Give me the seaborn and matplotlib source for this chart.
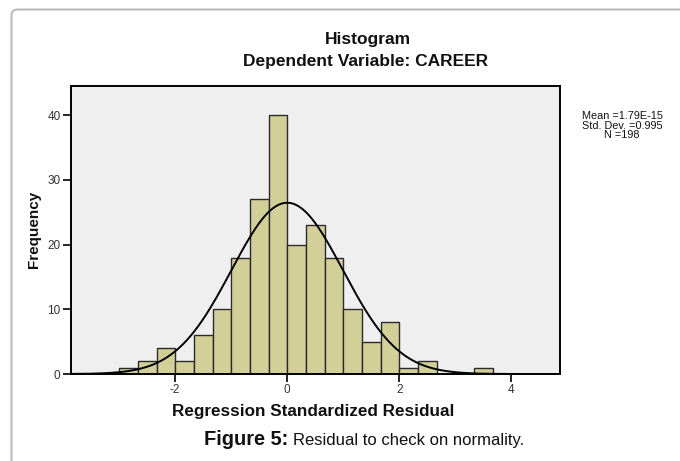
"""Residual histogram with fitted normal curve (SPSS style)."""

import matplotlib

matplotlib.use("Agg")
import matplotlib.pyplot as plt
import numpy as np
import pandas as pd
import seaborn as sns
from matplotlib.patches import FancyBboxPatch
from matplotlib.transforms import IdentityTransform

# bin edges (width 1/3) and counts
bin_edges = [round(-3.0 + i / 3.0, 6) for i in range(21)]
counts = [1, 2, 4, 2, 6, 10, 18, 27, 40, 20, 23, 18, 10, 5, 8, 1, 2, 0, 0, 1]

mean_val = 1.79e-15
std_val = 0.995
n_val = 198
stats_lines = ["Mean =1.79E-15", "Std. Dev. =0.995", "N =198"]

x_ticks = [-2, 0, 2, 4]
y_ticks = [0, 10, 20, 30, 40]

bar_color = "#D3CF98"
panel_color = "#EFEFEF"
text_color = "#111111"

sns.set_style("white")
plt.rcParams["font.family"] = ["Liberation Sans", "DejaVu Sans"]

W, H = 680, 461
fig = plt.figure(figsize=(W / 100, H / 100), dpi=100)
fig.patch.set_facecolor("white")


def px_axes(left, top, right, bottom):
    return [left / W, 1 - bottom / H, (right - left) / W, (bottom - top) / H]


def fx(px):
    return px / W


def fy(py):
    return 1 - py / H


ax = fig.add_axes(px_axes(71, 86, 560, 374))
ax.set_facecolor(panel_color)

edges = np.array(bin_edges)
df = pd.DataFrame({"centers": (edges[:-1] + edges[1:]) / 2, "count": counts})
sns.histplot(
    data=df,
    x="centers",
    weights="count",
    bins=list(bin_edges),
    color=bar_color,
    alpha=1.0,
    edgecolor="#2b2b2b",
    linewidth=1.0,
    ax=ax,
)

# fitted normal curve from the reported mean / std
xlim = (-3.86, 4.87)
bin_width = edges[1] - edges[0]
xs = np.linspace(xlim[0], xlim[1], 400)
curve = n_val * bin_width * np.exp(-0.5 * ((xs - mean_val) / std_val) ** 2) / (std_val * np.sqrt(2 * np.pi))
sns.lineplot(x=xs, y=curve, color="black", linewidth=1.4, ax=ax)

ax.set_xlim(*xlim)
ax.set_ylim(0, 44.5)
ax.set_xticks(x_ticks)
ax.set_yticks(y_ticks)
ax.set_xticklabels([str(t) for t in x_ticks])
ax.set_yticklabels([str(t) for t in y_ticks])
ax.tick_params(axis="both", direction="out", length=6, width=1.2, color="black",
               labelsize=8.5, labelcolor="#333333", pad=1.5, left=True, bottom=True)
for side in ax.spines.values():
    side.set_color("black")
    side.set_linewidth(1.4)
ax.set_xlabel("")
ax.set_ylabel("")

# titles and labels
fig.text(fx(368), fy(44), "Histogram", ha="center", va="baseline",
         fontsize=12.5, fontweight="bold", color=text_color)
fig.text(fx(366), fy(66), "Dependent Variable: CAREER", ha="center", va="baseline",
         fontsize=12.5, fontweight="bold", color=text_color)
fig.text(fx(313), fy(416), "Regression Standardized Residual", ha="center", va="baseline",
         fontsize=12.3, fontweight="bold", color=text_color)
fig.text(fx(34), fy(229), "Frequency", ha="center", va="center", rotation=90,
         fontsize=11, fontweight="bold", color=text_color)

for i, line in enumerate(stats_lines):
    fig.text(fx(622), fy(116 + 9.5 * i), line, ha="center", va="center",
             fontsize=7.8, color=text_color)

# caption
fig.text(fx(288), fy(445), "Figure 5:", ha="right", va="baseline",
         fontsize=14.4, fontweight="bold", color=text_color)
fig.text(fx(293), fy(445), "Residual to check on normality.", ha="left", va="baseline",
         fontsize=12, color=text_color)

# rounded frame around the figure
frame = FancyBboxPatch((11.5, -30), 720, H - 9.5 + 30,
                       boxstyle="round,pad=0,rounding_size=6",
                       facecolor="none", edgecolor="#BBBBBB", linewidth=1.5,
                       transform=IdentityTransform())
fig.add_artist(frame)

fig.savefig("out.png", dpi=100)
plt.close(fig)
